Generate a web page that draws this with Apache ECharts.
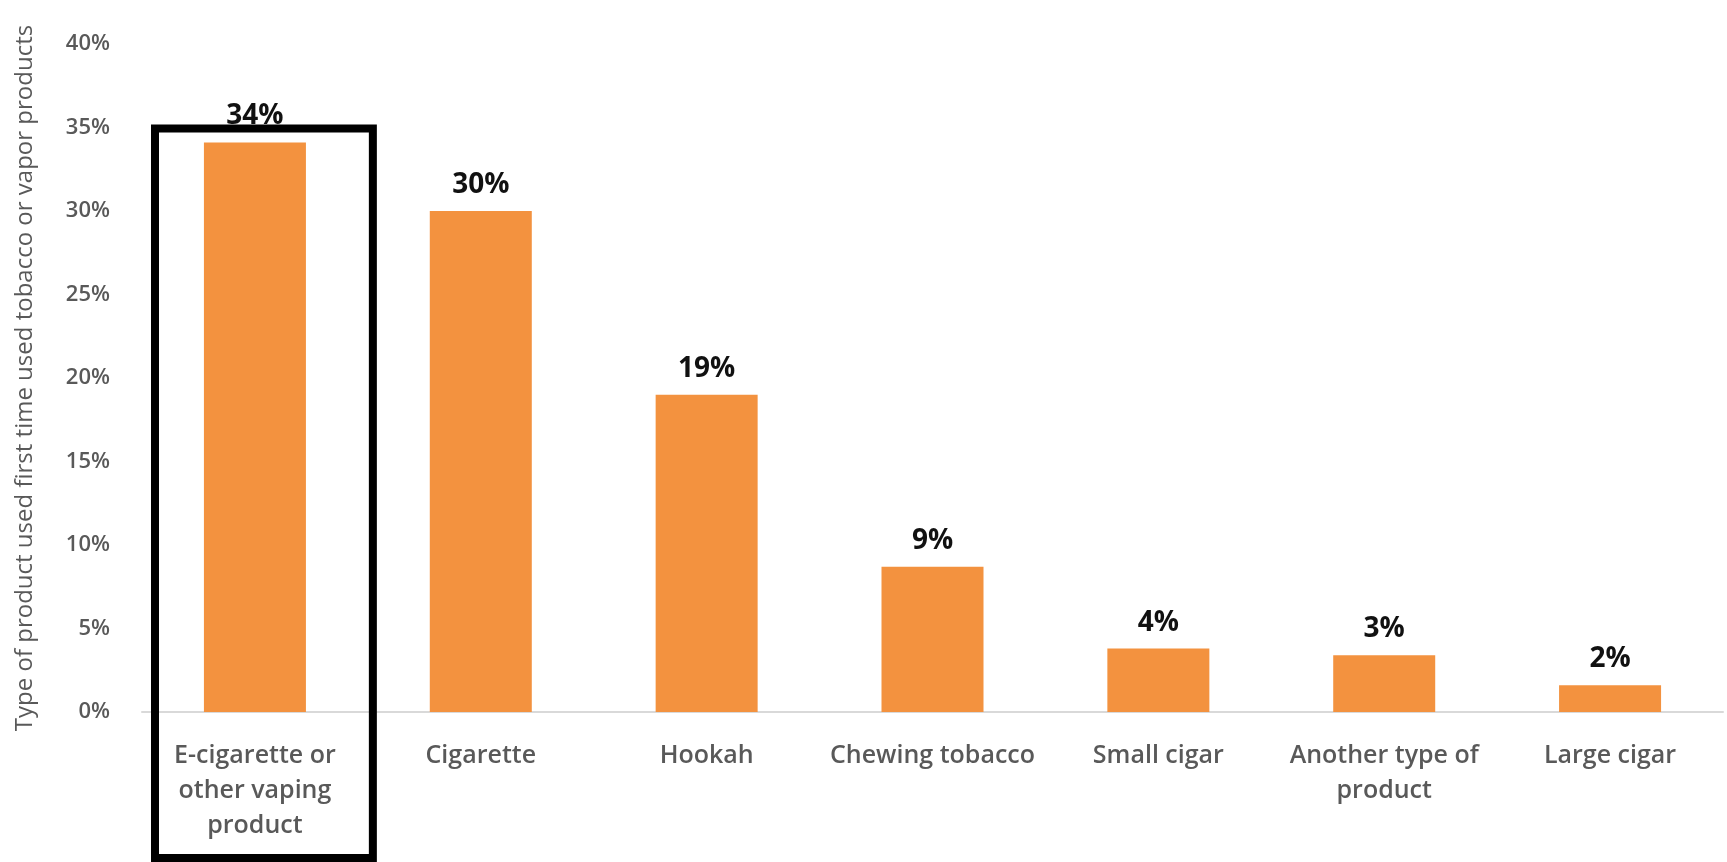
<!DOCTYPE html>
<html>
<head>
<meta charset="utf-8">
<title>First tobacco product</title>
<script src="https://cdn.jsdelivr.net/npm/echarts@6/dist/echarts.min.js"></script>
<style>
    html, body { margin: 0; padding: 0; background: #fff; }
    #main { width: 1727px; height: 862px; }
</style>
</head>
<body>
<div id="main"></div>
<script>
// categories along the x axis
var productTypes = ['E-cigarette or\nother vaping\nproduct', 'Cigarette', 'Hookah', 'Chewing tobacco', 'Small cigar', 'Another type of\nproduct', 'Large cigar'];
// share of students (%)
var sharePct = [34.1, 30.0, 19.0, 8.7, 3.8, 3.4, 1.6];
// y axis ticks
var yTicks = [0, 5, 10, 15, 20, 25, 30, 35, 40];
var yTitle = 'Type of product used first time used tobacco or vapor products';

var chart = echarts.init(document.getElementById('main'));
var font = '"Open Sans", sans-serif';

var option = {
    backgroundColor: '#fff',
    animation: false,
    grid: {
        left: 142,
        right: 4,
        top: 44,
        bottom: 150
    },
    xAxis: {
        type: 'category',
        data: productTypes,
        axisLine: { lineStyle: { color: '#d9d9d9', width: 2 } },
        axisTick: { show: false },
        axisLabel: {
            interval: 0,
            margin: 26,
            color: '#595959',
            fontFamily: font,
            fontWeight: 600,
            fontSize: 25,
            lineHeight: 35
        }
    },
    yAxis: {
        type: 'value',
        min: yTicks[0],
        max: yTicks[yTicks.length - 1],
        interval: yTicks[1] - yTicks[0],
        name: yTitle,
        nameLocation: 'middle',
        nameGap: 105,
        nameTextStyle: {
            color: '#595959',
            fontFamily: font,
            fontSize: 24
        },
        splitLine: { show: false },
        axisLine: { show: false },
        axisTick: { show: false },
        axisLabel: {
            margin: 32,
            color: '#595959',
            fontFamily: font,
            fontWeight: 600,
            fontSize: 22,
            formatter: function (v) { return v + '%'; }
        }
    },
    series: [{
        type: 'bar',
        data: sharePct,
        barWidth: 102,
        itemStyle: { color: '#f3923f' },
        label: {
            show: true,
            position: 'top',
            distance: 12,
            color: '#111',
            fontFamily: font,
            fontWeight: 'bold',
            fontSize: 28,
            formatter: function (p) { return Math.round(p.value) + '%'; }
        }
    }]
};
chart.setOption(option);

// black frame round the first category, placed from the axes
var c0 = chart.convertToPixel({ xAxisIndex: 0 }, 0);
var c1 = chart.convertToPixel({ xAxisIndex: 0 }, 1);
var band = c1 - c0;
var topY = chart.convertToPixel({ yAxisIndex: 0 }, 35);
chart.setOption({
    graphic: [{
        type: 'rect',
        shape: { x: c0 - band / 2 + 13, y: topY + 1, width: band - 8, height: 858 - topY - 1 },
        style: { fill: 'none', stroke: '#000', lineWidth: 8 },
        z: 10
    }]
});
</script>
</body>
</html>
